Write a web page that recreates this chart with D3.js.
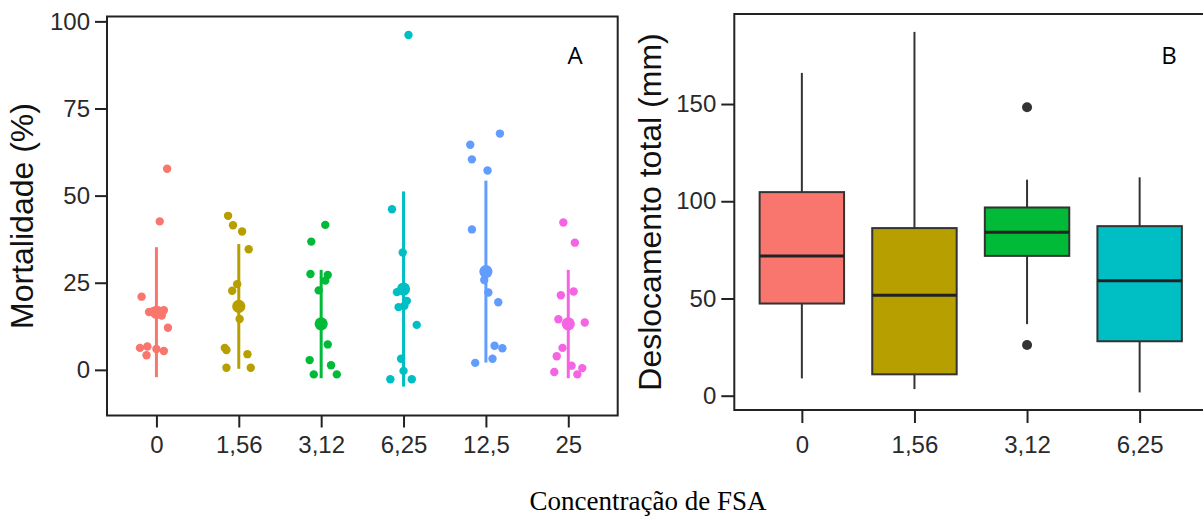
<!DOCTYPE html>
<html>
<head>
<meta charset="utf-8">
<script src="https://cdn.jsdelivr.net/npm/d3@7"></script>
<style>
  html, body { margin: 0; padding: 0; background: #fff; }
  svg { display: block; }
</style>
</head>
<body>
<svg id="chart" width="1203" height="517"></svg>
<script>
// ---------------- Panel A data (Mortalidade %) ----------------
const categoriesA = ["0", "1,56", "3,12", "6,25", "12,5", "25"];
const colorsA = ["#F8766D", "#B79F00", "#00BA38", "#00BFC4", "#619CFF", "#F564E3"];
// individual observations: [value, jitter (fraction of category step)]
const pointsA0 = [[57.7,0.13],[42.6,0.04],[21.0,-0.18],[16.6,-0.09],[16.8,-0.04],[17.0,0.03],[17.1,0.09],[15.6,0.065],[12.1,0.14],[6.3,-0.2],[6.7,-0.11],[4.2,-0.12],[6.0,0.0],[5.4,0.09]];
const pointsA1 = [[44.2,-0.13],[41.5,-0.07],[39.7,0.04],[34.6,0.12],[24.6,-0.02],[22.7,-0.08],[14.6,0.01],[6.3,-0.17],[5.7,-0.15],[4.5,0.105],[0.6,-0.15],[0.6,0.145]];
const pointsA2 = [[41.6,0.05],[36.8,-0.12],[27.5,-0.13],[27.2,0.08],[25.6,0.05],[22.8,-0.03],[7.3,0.08],[2.8,-0.14],[1.3,0.12],[-1.3,-0.09],[-1.3,0.19]];
const pointsA3 = [[96.1,0.06],[46.1,-0.14],[33.7,-0.01],[22.3,-0.08],[19.8,0.04],[18.0,-0.06],[18.4,0.01],[12.9,0.16],[3.2,-0.03],[-0.3,0.0],[-2.7,-0.16],[-2.7,0.1]];
const pointsA4 = [[67.8,0.17],[64.6,-0.19],[60.4,-0.17],[57.2,0.02],[40.3,-0.17],[25.8,-0.02],[22.2,0.03],[19.4,0.15],[6.9,0.105],[6.2,0.2],[3.2,0.08],[2.0,-0.13]];
const pointsA5 = [[42.3,-0.06],[36.5,0.08],[21.4,-0.09],[22.5,0.065],[14.5,-0.12],[13.6,0.2],[6.3,-0.07],[3.9,-0.14],[1.2,0.04],[0.5,0.17],[-0.6,-0.17],[-1.3,0.11]];
const pointsA = [pointsA0, pointsA1, pointsA2, pointsA3, pointsA4, pointsA5];
// summary: mean and error-bar limits
const meanA  = [16.5, 18.2, 13.2, 23.2, 28.2, 13.2];
const lowerA = [-2.1, 0.3, -2.4, -4.8, 2.1, -2.4];
const upperA = [35.2, 36.1, 28.7, 51.2, 54.3, 28.7];
const yTicksA = [0, 25, 50, 75, 100];

// ---------------- Panel B data (Deslocamento total mm) ----------------
const categoriesB = ["0", "1,56", "3,12", "6,25"];
const colorsB = ["#F8766D", "#B79F00", "#00BA38", "#00BFC4"];
const whiskerLowB = [8.9, 3.4, 36.8, 1.7];
const q1B         = [47.4, 11.0, 71.9, 28.0];
const medianB     = [71.9, 51.7, 84.1, 59.1];
const q3B         = [104.7, 86.2, 96.8, 87.2];
const whiskerHighB= [166.0, 187.1, 111.1, 112.3];
const outliersB   = [[], [], [148.3, 26.1], []];
const yTicksB = [0, 50, 100, 150];

const SANS = '"Liberation Sans", Arial, Helvetica, sans-serif';
const SERIF = '"Liberation Serif", "Times New Roman", serif';
const LABEL = '"Open Sans", "Liberation Sans", sans-serif';

const svg = d3.select("#chart");
svg.append("rect").attr("width", 1203).attr("height", 517).attr("fill", "#fff");

function styleAxis(ax) {
  ax.select(".domain").remove();
  ax.selectAll(".tick line").attr("stroke", "#222").attr("stroke-width", 2);
  ax.selectAll(".tick text")
    .style("font-size", "24px").style("font-family", SANS).attr("fill", "#2a2a2a");
}

// ================= Panel A =================
const A = { left: 107, right: 617.7, top: 16.5, bottom: 415.5 };
const xA = d3.scalePoint().domain(categoriesA).range([A.left, A.right]).padding(0.6);
const yA = d3.scaleLinear().domain([-13.1, 101.4]).range([A.bottom, A.top]);
const gA = svg.append("g");

categoriesA.forEach((c, i) => {
  const g = gA.append("g");
  g.append("line")
    .attr("x1", xA(c)).attr("x2", xA(c))
    .attr("y1", yA(lowerA[i])).attr("y2", yA(upperA[i]))
    .attr("stroke", colorsA[i]).attr("stroke-width", 3);
  g.selectAll("circle.pt").data(pointsA[i]).enter().append("circle")
    .attr("class", "pt")
    .attr("cx", d => xA(c) + d[1] * xA.step())
    .attr("cy", d => yA(d[0]))
    .attr("r", 4.2)
    .attr("fill", colorsA[i]);
  g.append("circle")
    .attr("cx", xA(c)).attr("cy", yA(meanA[i]))
    .attr("r", 6.6).attr("fill", colorsA[i]);
});

gA.append("rect")
  .attr("x", A.left).attr("y", A.top)
  .attr("width", A.right - A.left).attr("height", A.bottom - A.top)
  .attr("fill", "none").attr("stroke", "#222").attr("stroke-width", 2);

const axYA = gA.append("g").attr("transform", `translate(${A.left},0)`)
  .call(d3.axisLeft(yA).tickValues(yTicksA).tickSize(12).tickPadding(5));
const axXA = gA.append("g").attr("transform", `translate(0,${A.bottom})`)
  .call(d3.axisBottom(xA).tickSize(12).tickPadding(8));
styleAxis(axYA); styleAxis(axXA);

gA.append("text")
  .attr("transform", `translate(33,${(A.top + A.bottom) / 2}) rotate(-90)`)
  .attr("text-anchor", "middle").attr("fill", "#111")
  .style("font-size", "32px").style("font-family", SANS)
  .text("Mortalidade (%)");
gA.append("text")
  .attr("x", 575).attr("y", 63.5).attr("text-anchor", "middle").attr("fill", "#000")
  .style("font-size", "24px").style("font-family", LABEL)
  .text("A");

// ================= Panel B =================
const B = { left: 734.3, right: 1207.2, top: 14, bottom: 410 };
const xB = d3.scalePoint().domain(categoriesB).range([B.left, B.right]).padding(0.6);
const yB = d3.scaleLinear().domain([-7.35, 196.3]).range([B.bottom, B.top]);
const gB = svg.append("g");
const boxW = xB.step() * 0.75;

categoriesB.forEach((c, i) => {
  const g = gB.append("g");
  const cx = xB(c);
  g.append("line").attr("x1", cx).attr("x2", cx)
    .attr("y1", yB(q3B[i])).attr("y2", yB(whiskerHighB[i]))
    .attr("stroke", "#333").attr("stroke-width", 2);
  g.append("line").attr("x1", cx).attr("x2", cx)
    .attr("y1", yB(q1B[i])).attr("y2", yB(whiskerLowB[i]))
    .attr("stroke", "#333").attr("stroke-width", 2);
  g.append("rect")
    .attr("x", cx - boxW / 2).attr("y", yB(q3B[i]))
    .attr("width", boxW).attr("height", yB(q1B[i]) - yB(q3B[i]))
    .attr("fill", colorsB[i]).attr("stroke", "#333").attr("stroke-width", 2);
  g.append("line").attr("x1", cx - boxW / 2).attr("x2", cx + boxW / 2)
    .attr("y1", yB(medianB[i])).attr("y2", yB(medianB[i]))
    .attr("stroke", "#222").attr("stroke-width", 3);
  g.selectAll("circle.out").data(outliersB[i]).enter().append("circle")
    .attr("class", "out")
    .attr("cx", cx).attr("cy", d => yB(d)).attr("r", 5).attr("fill", "#333");
});

gB.append("rect")
  .attr("x", B.left).attr("y", B.top)
  .attr("width", B.right - B.left).attr("height", B.bottom - B.top)
  .attr("fill", "none").attr("stroke", "#222").attr("stroke-width", 2);

const axYB = gB.append("g").attr("transform", `translate(${B.left},0)`)
  .call(d3.axisLeft(yB).tickValues(yTicksB).tickSize(13).tickPadding(5));
const axXB = gB.append("g").attr("transform", `translate(0,${B.bottom})`)
  .call(d3.axisBottom(xB).tickSize(13).tickPadding(13));
styleAxis(axYB); styleAxis(axXB);

gB.append("text")
  .attr("transform", `translate(661,${(B.top + B.bottom) / 2}) rotate(-90)`)
  .attr("text-anchor", "middle").attr("fill", "#111")
  .style("font-size", "32px").style("font-family", SANS)
  .text("Deslocamento total (mm)");
gB.append("text")
  .attr("x", 1169).attr("y", 63.5).attr("text-anchor", "middle").attr("fill", "#000")
  .style("font-size", "24px").style("font-family", LABEL)
  .text("B");

// shared x title
svg.append("text")
  .attr("x", 648).attr("y", 510).attr("text-anchor", "middle").attr("fill", "#000")
  .style("font-size", "27px").style("font-family", SERIF)
  .text("Concentração de FSA");
</script>
</body>
</html>
